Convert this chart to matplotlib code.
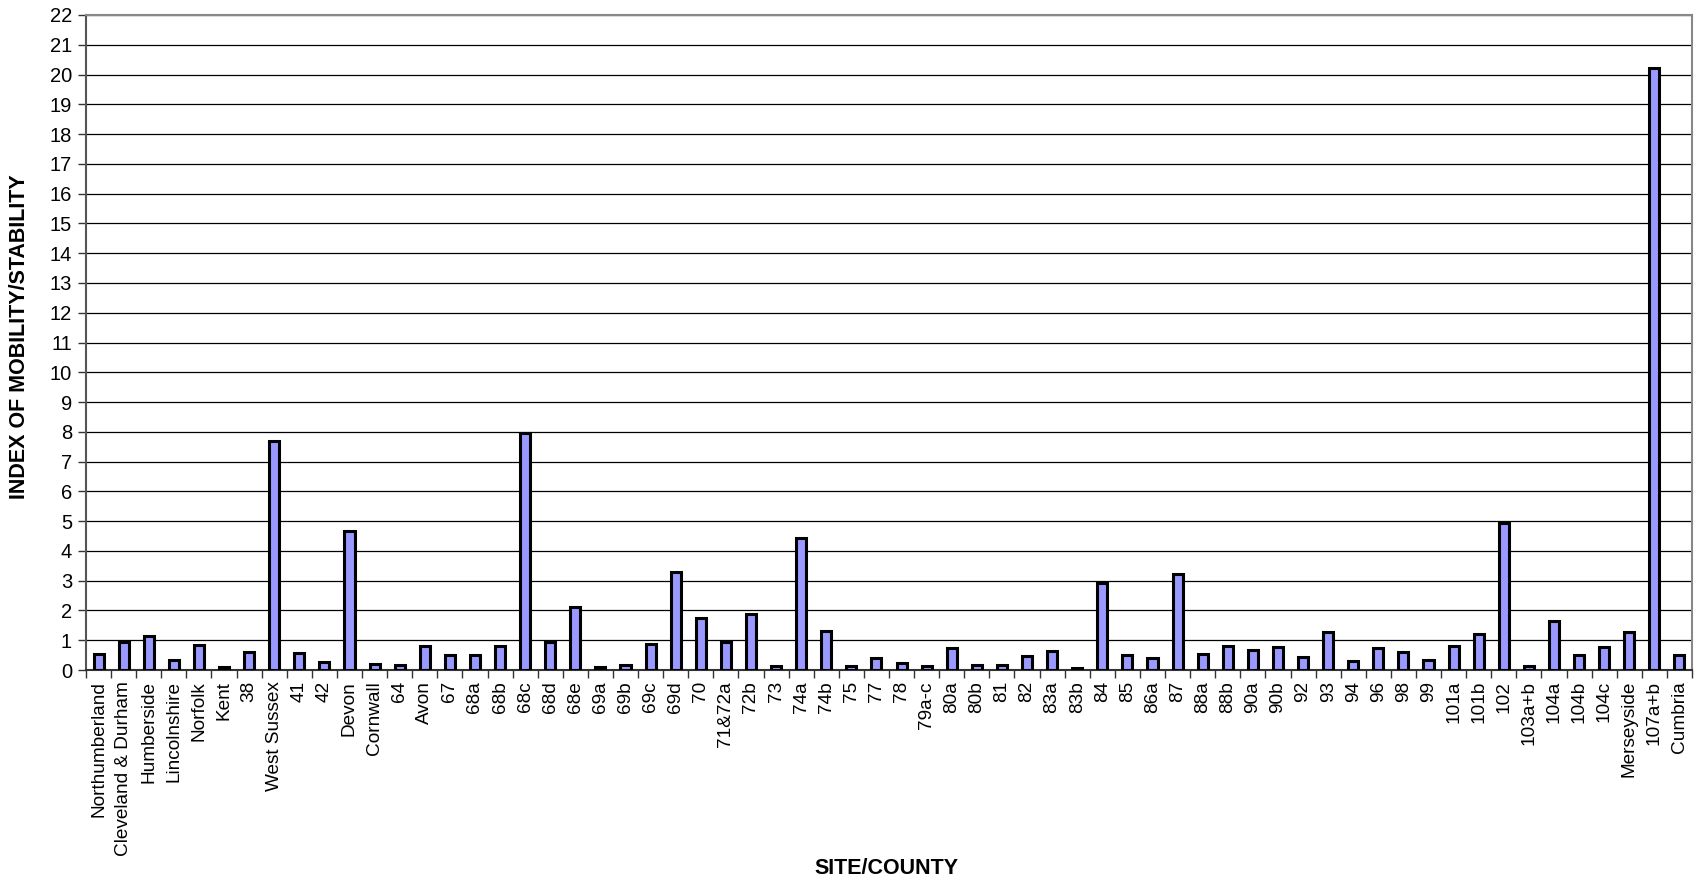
import matplotlib
matplotlib.use("Agg")
import matplotlib.pyplot as plt
import numpy as np

plt.rcParams['font.family'] = ['Liberation Sans', 'DejaVu Sans']

sites = ["Northumberland", "Cleveland & Durham", "Humberside", "Lincolnshire", "Norfolk",
         "Kent", "38", "West Sussex", "41", "42", "Devon", "Cornwall", "64", "Avon", "67",
         "68a", "68b", "68c", "68d", "68e", "69a", "69b", "69c", "69d", "70", "71&72a",
         "72b", "73", "74a", "74b", "75", "77", "78", "79a-c", "80a", "80b", "81", "82",
         "83a", "83b", "84", "85", "86a", "87", "88a", "88b", "90a", "90b", "92", "93",
         "94", "96", "98", "99", "101a", "101b", "102", "103a+b", "104a", "104b", "104c",
         "Merseyside", "107a+b", "Cumbria"]

index_values = [0.55, 0.95, 1.15, 0.35, 0.85,
                0.10, 0.59, 7.68, 0.57, 0.26, 4.67, 0.20, 0.17, 0.79, 0.52,
                0.50, 0.79, 7.95, 0.94, 2.13, 0.10, 0.16, 0.88, 3.29, 1.74, 0.95,
                1.88, 0.12, 4.45, 1.30, 0.13, 0.39, 0.22, 0.13, 0.73, 0.16, 0.16, 0.47,
                0.64, 0.07, 2.92, 0.51, 0.41, 3.22, 0.55, 0.82, 0.67, 0.76, 0.45, 1.29,
                0.30, 0.75, 0.59, 0.34, 0.80, 1.21, 4.94, 0.13, 1.64, 0.52, 0.77,
                1.26, 20.22, 0.51]

y_ticks = list(range(0, 23))

fig = plt.figure(figsize=(16.94, 8.83), dpi=100)
ax = fig.add_axes([86/1694, 213/883, 1606/1694, 655/883])

x = np.arange(len(sites))
ax.bar(x, index_values, width=0.4, color='#9999FF', edgecolor='black', linewidth=2.2, zorder=3)

ax.set_xlim(-0.5, len(sites) - 0.5)
ax.set_ylim(0, 22)
ax.set_yticks(y_ticks)
ax.set_yticklabels([str(v) for v in y_ticks], fontsize=14.5)
ax.yaxis.grid(True, color='black', linewidth=0.9, zorder=0)
ax.set_axisbelow(True)

# x ticks: marks at boundaries, labels at centers
ax.set_xticks(np.arange(-0.5, len(sites), 1.0))
ax.set_xticklabels([])
ax.set_xticks(x, minor=True)
ax.set_xticklabels(sites, minor=True, rotation=90, fontsize=13.7)
ax.tick_params(axis='x', which='major', length=6, width=1, direction='out', color='#333333')
ax.tick_params(axis='x', which='minor', length=0, pad=8)
ax.tick_params(axis='y', length=6, width=1, direction='out', color='#333333', pad=4)

for s in ['top', 'right']:
    ax.spines[s].set_color('#888888')
    ax.spines[s].set_linewidth(1.5)
ax.spines['left'].set_color('#555555')
ax.spines['left'].set_linewidth(1.5)
ax.spines['bottom'].set_color('#333333')
ax.spines['bottom'].set_linewidth(1.5)

fig.text(20/1694, 1 - 337/883, "INDEX OF MOBILITY/STABILITY", rotation=90,
         fontsize=15.5, fontweight='bold', ha='center', va='center')
fig.text(886/1694, 1 - 868/883, "SITE/COUNTY", fontsize=15.5, fontweight='bold',
         ha='center', va='center')

fig.savefig("out.png", dpi=100)
